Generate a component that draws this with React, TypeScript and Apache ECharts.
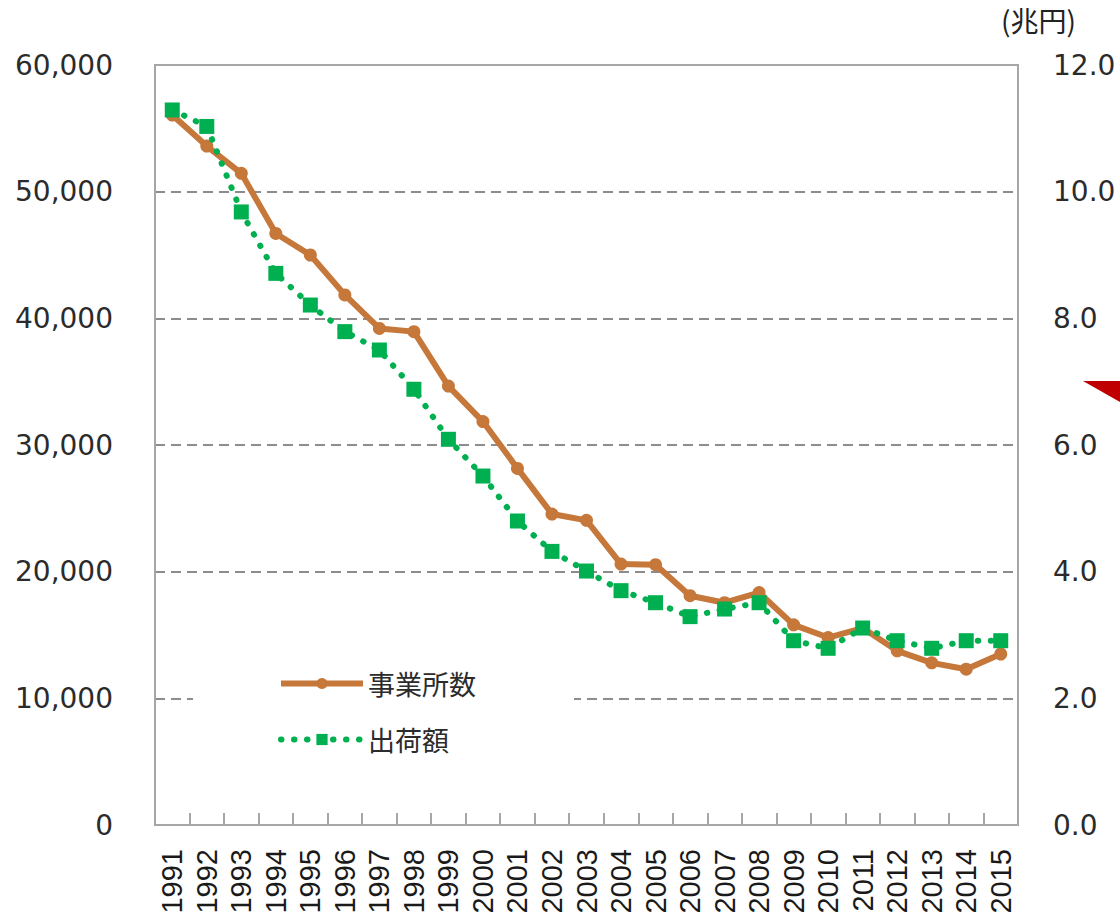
import React, { useEffect, useRef } from "react";
import * as echarts from "echarts";

const years = [
  "1991", "1992", "1993", "1994", "1995", "1996", "1997", "1998", "1999", "2000",
  "2001", "2002", "2003", "2004", "2005", "2006", "2007", "2008", "2009", "2010",
  "2011", "2012", "2013", "2014", "2015",
];
const establishments = [
  56050, 53600, 51450, 46700, 45000, 41850, 39200, 38950, 34650, 31850,
  28150, 24550, 24050, 20600, 20550, 18100, 17550, 18350, 15800, 14800,
  15550, 13750, 12800, 12300, 13500,
];
const shipments = [
  11.29, 11.03, 9.68, 8.71, 8.21, 7.79, 7.5, 6.88, 6.09, 5.51,
  4.8, 4.32, 4.01, 3.7, 3.51, 3.29, 3.41, 3.51, 2.91, 2.79,
  3.11, 2.91, 2.79, 2.91, 2.91,
];
const seriesNames = ["事業所数", "出荷額"];
const unitLabel = "(兆円)";

const ORANGE = "#C6773A";
const GREEN = "#00B050";
const GRAY = "#A6A6A6";
const TEXT = "#2B2B2B";

export default function App() {
  const ref = useRef<HTMLDivElement>(null);
  useEffect(() => {
    if (!ref.current) return;
    const chart = echarts.init(ref.current, null, { renderer: "svg" });
    chart.setOption({
      animation: false,
      backgroundColor: "#ffffff",
      grid: {
        left: 155,
        right: 102,
        top: 65,
        bottom: 97,
        show: true,
        borderColor: GRAY,
        borderWidth: 2,
        backgroundColor: "transparent",
      },
      legend: {
        orient: "vertical",
        left: 193,
        top: 655,
        padding: [15, 98, 15, 85],
        backgroundColor: "#ffffff",
        itemWidth: 82,
        itemHeight: 14,
        itemGap: 29,
        data: seriesNames,
        lineStyle: { width: 6 },
        textStyle: {
          fontFamily: "Noto Sans CJK JP",
          fontSize: 27,
          color: TEXT,
        },
      },
      xAxis: {
        type: "category",
        data: years,
        boundaryGap: true,
        axisLine: { show: true, lineStyle: { color: GRAY, width: 2 } },
        axisTick: { show: true, inside: true, length: 12, lineStyle: { color: GRAY, width: 2 } },
        axisLabel: {
          rotate: 90,
          interval: 0,
          margin: 24,
          fontFamily: "Liberation Sans",
          fontSize: 29,
          color: "#1A1A1A",
        },
      },
      yAxis: [
        {
          type: "value",
          min: 0,
          max: 60000,
          interval: 10000,
          axisLine: { show: true, lineStyle: { color: GRAY, width: 2 } },
          axisTick: { show: false },
          axisLabel: {
            margin: 42,
            fontFamily: "DejaVu Sans",
            fontSize: 28,
            color: TEXT,
            formatter: (v: number) => v.toLocaleString("en-US"),
          },
          splitLine: {
            show: true,
            showMinLine: false,
            showMaxLine: false,
            lineStyle: { color: "#8C8C8C", width: 2, type: [10, 6] },
          },
        },
        {
          type: "value",
          min: 0,
          max: 12,
          interval: 2,
          position: "right",
          axisLine: { show: true, lineStyle: { color: GRAY, width: 2 } },
          axisTick: { show: false },
          axisLabel: {
            margin: 35,
            fontFamily: "DejaVu Sans",
            fontSize: 28,
            color: TEXT,
            formatter: (v: number) => v.toFixed(1),
          },
          splitLine: { show: false },
        },
      ],
      series: [
        {
          name: seriesNames[0],
          type: "line",
          yAxisIndex: 0,
          data: establishments,
          symbol: "circle",
          symbolSize: 13,
          itemStyle: { color: ORANGE },
          lineStyle: { color: ORANGE, width: 6 },
          z: 2,
        },
        {
          name: seriesNames[1],
          type: "line",
          yAxisIndex: 1,
          data: shipments,
          symbol: "rect",
          symbolSize: 15,
          itemStyle: { color: GREEN },
          lineStyle: { color: GREEN, width: 6, type: [0.5, 12.5], cap: "round" },
          z: 3,
        },
      ],
      graphic: [
        {
          type: "text",
          right: 1120 - 1076,
          top: 6,
          style: {
            text: unitLabel,
            fontFamily: "Noto Sans CJK JP",
            fontSize: 28,
            fill: "#222222",
          },
        },
        {
          type: "polygon",
          shape: { points: [[1083, 381], [1120, 381], [1120, 402]] },
          style: { fill: "#C00000" },
        },
      ],
    });
    return () => chart.dispose();
  }, []);
  return (
    <div
      ref={ref}
      style={{ position: "fixed", left: 0, top: 0, width: 1120, height: 922 }}
    />
  );
}
